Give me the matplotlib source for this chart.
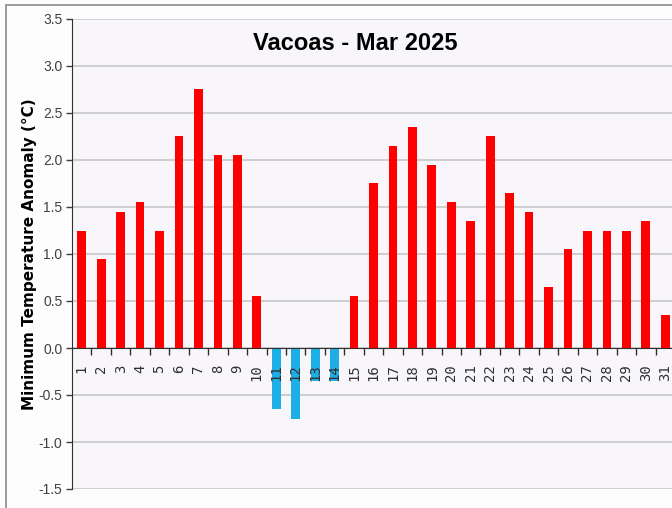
import matplotlib
matplotlib.use("Agg")
import matplotlib.pyplot as plt
from matplotlib.patches import Rectangle
import numpy as np

days = list(range(1, 32))
anomaly = [1.25, 0.95, 1.45, 1.55, 1.25, 2.25, 2.75, 2.05, 2.05, 0.55,
           -0.65, -0.75, -0.35, -0.35, 0.55, 1.75, 2.15, 2.35, 1.95, 1.55,
           1.35, 2.25, 1.65, 1.45, 0.65, 1.05, 1.25, 1.25, 1.25, 1.35, 0.35]
day_labels = [str(d) for d in days]
y_ticks = np.arange(-1.5, 3.51, 0.5)

plt.rcParams['font.family'] = ['Liberation Sans', 'DejaVu Sans']

fig = plt.figure(figsize=(6.72, 5.08), dpi=100)
fig.patch.set_facecolor('#fdfdfd')

# outer chart border (cut off on right and bottom like the screenshot)
fig.patches.append(Rectangle((6 / 672, -0.05), 1.2, (503 / 508) + 0.05,
                             transform=fig.transFigure, fill=False,
                             edgecolor='#8a8a8a', lw=1.2))

ax = fig.add_axes([72 / 672, 19 / 508, 603 / 672, 470 / 508])
ax.set_facecolor('#f8f6fa')

# gridlines behind the bars, tick labels above them
for y in y_ticks:
    ax.axhline(y, color='#c4c4c4', lw=1.1, zorder=0)

colors = ['#ff0000' if v >= 0 else '#1eaee6' for v in anomaly]
ax.bar(days, anomaly, width=0.45, color=colors, zorder=1)

ax.set_xlim(0.5, 31.5)
ax.set_ylim(-1.5, 3.5)
ax.set_yticks(y_ticks)
ax.set_yticklabels([f'{v:.1f}' for v in y_ticks], fontsize=10, color='#404040')
ax.tick_params(axis='y', length=4, width=1, color='#404040', pad=3)

ax.spines['top'].set_visible(False)
ax.spines['right'].set_visible(False)
ax.spines['left'].set_color('#303030')
ax.spines['bottom'].set_position(('data', 0))
ax.spines['bottom'].set_color('#303030')

ax.set_xticks(days)
ax.set_xticklabels(day_labels, rotation=90, fontsize=10, color='#303030',
                   family='DejaVu Sans Mono')
ax.set_xticks(np.arange(1.5, 31, 1), minor=True)
ax.tick_params(axis='x', which='major', length=0, pad=12)
ax.tick_params(axis='x', which='minor', length=5, width=1, color='#303030')

ax.set_ylabel('Minimum Temperature Anomaly (°C)', fontsize=11,
              fontweight='bold', family='DejaVu Sans', labelpad=1)

fig.text(355 / 672, 1 - 44 / 508, 'Vacoas - Mar 2025', ha='center', va='center',
         fontsize=17, fontweight='bold')

fig.savefig('out.png', dpi=100, facecolor=fig.get_facecolor())
